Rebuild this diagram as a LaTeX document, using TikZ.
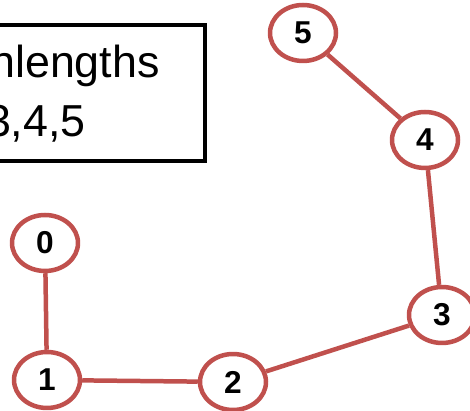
\documentclass[tikz,border=0pt]{standalone}
\usepackage{fontspec}
\setmainfont{Liberation Sans}
\usepackage{xcolor}
\usepackage{tikz}
\usetikzlibrary{shapes.geometric}
\definecolor{chainred}{RGB}{192,80,77}

\begin{document}
\begin{tikzpicture}[x=0.02cm, y=-0.02cm,
    vertex/.style={ellipse, minimum width=1.32cm, minimum height=1.12cm, inner sep=0pt, text centered, draw=chainred, line width=0.09cm, fill=white, font=\fontsize{18}{20}\selectfont\bfseries},
    label/.style={inner sep=0pt, font=\fontsize{25.5}{30}\selectfont},
    edge/.style={draw=chainred, line width=0.09cm}]

    \useasboundingbox (0,0) rectangle (470,411);
    \clip (0,0) rectangle (470,411);

    % Kasten mit Text
    \draw [line width=0.085cm] (-60,25) rectangle (205,161);
    \node [label, anchor=base east] (line1) at (160,78) {nlengths};
    \node [label, anchor=base east] (line2) at (86,137) {3,4,5};

    % Knoten
    \node [vertex] (n0) at (45,243) {0};
    \node [vertex] (n1) at (47,380) {1};
    \node [vertex] (n2) at (233,382) {2};
    \node [vertex] (n3) at (442,315) {3};
    \node [vertex] (n4) at (425,140) {4};
    \node [vertex] (n5) at (303,33) {5};

    % Kanten
    \draw [edge] (n0) -- (n1);
    \draw [edge] (n1) -- (n2);
    \draw [edge] (n2) -- (n3);
    \draw [edge] (n3) -- (n4);
    \draw [edge] (n4) -- (n5);
\end{tikzpicture}
\end{document}
